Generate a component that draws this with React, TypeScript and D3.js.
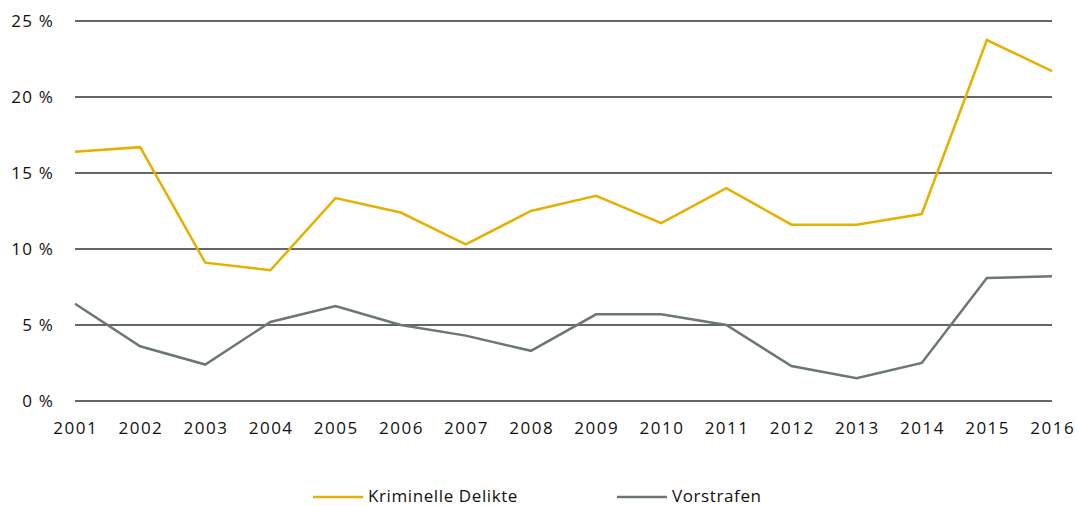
import { useRef, useEffect } from 'react';
import * as d3 from 'd3';

const years = [2001, 2002, 2003, 2004, 2005, 2006, 2007, 2008, 2009, 2010, 2011, 2012, 2013, 2014, 2015, 2016];
const kriminelleDelikte = [16.4, 16.7, 9.1, 8.6, 13.35, 12.4, 10.3, 12.5, 13.5, 11.7, 14.0, 11.6, 11.6, 12.3, 23.75, 21.7];
const vorstrafen = [6.4, 3.6, 2.4, 5.2, 6.25, 5.0, 4.3, 3.3, 5.7, 5.7, 5.0, 2.3, 1.5, 2.5, 8.1, 8.2];
const yTicks = [0, 5, 10, 15, 20, 25];

const series = [
  { name: 'Kriminelle Delikte', values: kriminelleDelikte, color: '#e6b000' },
  { name: 'Vorstrafen', values: vorstrafen, color: '#6c7770' },
];

export default function App() {
  const ref = useRef<SVGSVGElement>(null);

  useEffect(() => {
    const width = 1078;
    const height = 506;
    const svg = d3.select(ref.current);
    svg.selectAll('*').remove();

    const font = '"Open Sans", "DejaVu Sans", sans-serif';

    const x = d3.scaleLinear().domain([2001, 2016]).range([75, 1052]);
    const y = d3.scaleLinear().domain([0, 25]).range([401, 21]);

    // gridlines + y labels
    const grid = svg.append('g');
    grid.selectAll('line')
      .data(yTicks)
      .join('line')
      .attr('x1', 75)
      .attr('x2', 1052)
      .attr('y1', d => y(d))
      .attr('y2', d => y(d))
      .attr('stroke', '#333')
      .attr('stroke-width', 1.3);

    grid.selectAll('text')
      .data(yTicks)
      .join('text')
      .attr('x', 54)
      .attr('y', d => y(d))
      .attr('dy', '0.35em')
      .attr('text-anchor', 'end')
      .attr('font-family', font)
      .attr('font-size', 17)
      .attr('letter-spacing', 1.2)
      .attr('fill', '#111')
      .text(d => `${d} %`);

    // x labels
    svg.append('g')
      .selectAll('text')
      .data(years)
      .join('text')
      .attr('x', d => x(d) + 0.75)
      .attr('y', 428)
      .attr('dy', '0.35em')
      .attr('text-anchor', 'middle')
      .attr('font-family', font)
      .attr('font-size', 17)
      .attr('letter-spacing', 1.5)
      .attr('fill', '#111')
      .text(d => d);

    const line = d3.line<number>()
      .x((_, i) => x(years[i]))
      .y(d => y(d));

    series.forEach(s => {
      svg.append('path')
        .datum(s.values)
        .attr('fill', 'none')
        .attr('stroke', s.color)
        .attr('stroke-width', 2.5)
        .attr('stroke-linejoin', 'miter')
        .attr('d', line);
    });

    // legend
    const legendX = [313, 617];
    const legend = svg.append('g');
    series.forEach((s, i) => {
      legend.append('line')
        .attr('x1', legendX[i])
        .attr('x2', legendX[i] + 50)
        .attr('y1', 497)
        .attr('y2', 497)
        .attr('stroke', s.color)
        .attr('stroke-width', 2.5);
      legend.append('text')
        .attr('x', legendX[i] + 55)
        .attr('y', 496)
        .attr('dy', '0.35em')
        .attr('font-family', font)
        .attr('font-size', 17)
        .attr('letter-spacing', 0.6)
        .attr('fill', '#111')
        .text(s.name);
    });

    svg.attr('width', width).attr('height', height);
  }, []);

  return (
    <svg
      ref={ref}
      width={1078}
      height={506}
      style={{ position: 'absolute', left: 0, top: 0, display: 'block', background: '#fff' }}
    />
  );
}
